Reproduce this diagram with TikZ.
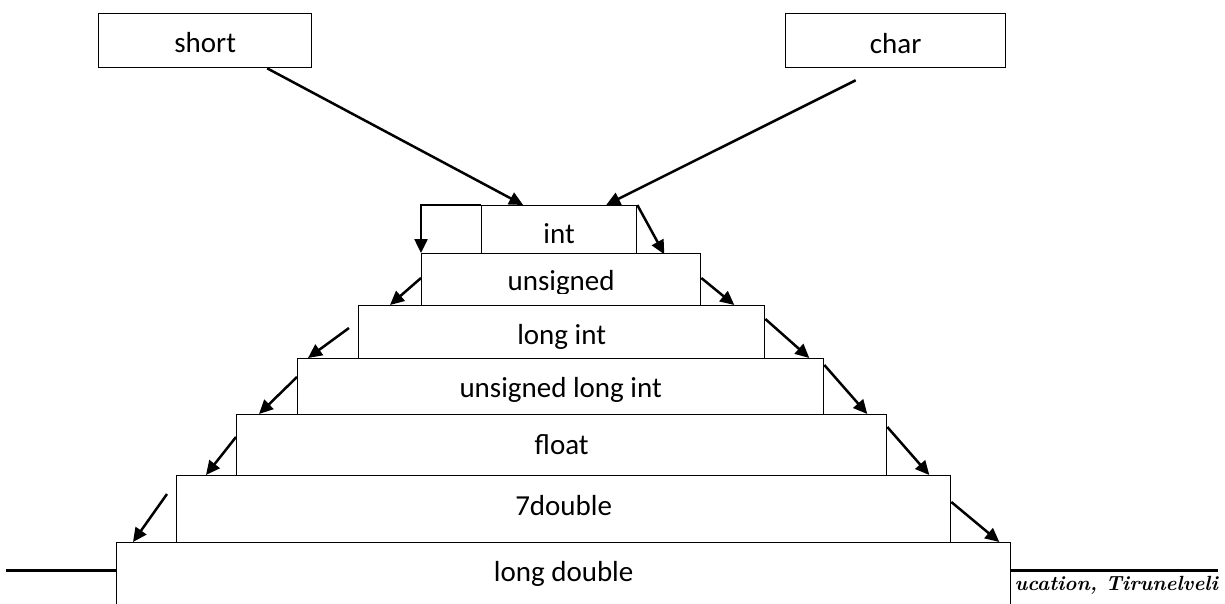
\documentclass[tikz,border=0pt]{standalone}
\usepackage{fontspec}
\newfontfamily\carlito{Carlito}
\usetikzlibrary{arrows.meta,calc}
\tikzset{
  tbox/.style={draw=black, line width=1.3pt, fill=white, rectangle, inner sep=0pt,
    anchor=north west, align=center, font=\carlito\fontsize{29}{34}\selectfont},
  arr/.style={line width=2.5pt, -{Triangle[length=14pt,width=13pt]}},
  rulel/.style={line width=3pt},
}
\begin{document}
\begin{tikzpicture}[x=1pt,y=-1pt]
\clip (0,0) rectangle (1225,604);
% footer text and rule
\node[font=\fontsize{20.5}{24}\selectfont\bfseries\itshape, anchor=base east, inner sep=0pt] (foot) at (1218,590) {ucation, Tirunelveli};
\coordinate (hl) at (6,570);
\coordinate (hr) at (1218,570);
% top boxes
\node[tbox, minimum width=213pt, text height=39pt, text depth=15pt] (short) at (98,13) {short};
\node[tbox, minimum width=220pt, text height=40pt, text depth=14pt] (char) at (785,13) {char};
% pyramid
\node[tbox, minimum width=155pt, text height=38pt, text depth=10pt] (int) at (481,205) {int};
\node[tbox, minimum width=279pt, text height=37pt, text depth=15pt] (unsigned) at (421,253) {unsigned};
\fill[white] (422.5,294) rectangle (698.5,304);
\node[tbox, minimum width=406pt, text height=39pt, text depth=14pt] (longint) at (358,305) {long int};
\node[tbox, minimum width=526pt, text height=39pt, text depth=17pt] (ulint) at (297,358) {unsigned long int};
\node[tbox, minimum width=650pt, text height=40pt, text depth=21pt] (float) at (236,414) {float};
\node[tbox, minimum width=774pt, text height=40pt, text depth=27pt] (dbl) at (176,475) {7double};
\node[tbox, minimum width=894pt, text height=39pt, text depth=59pt] (ldbl) at (116,542) {long double};
% rules
\draw[rulel] (hl) -- (hl -| ldbl.west);
\draw[rulel] (hr -| ldbl.east) -- (hr);
% arrows into int
\draw[arr] ([xshift=62pt]short.south) -- ([xshift=-36pt]int.north);
\draw[arr] ([xshift=-40pt,yshift=-12pt]char.south) -- ([xshift=47pt]int.north);
% left side
\draw[arr] (int.north west) -| (unsigned.north west);
\draw[arr] ([yshift=-25pt]unsigned.north west) -- ([xshift=32pt]longint.north west);
\draw[arr] ([xshift=-9pt,yshift=-23pt]longint.north west) -- ([xshift=11pt]ulint.north west);
\draw[arr] ([yshift=-19pt]ulint.north west) -- ([xshift=23pt]float.north west);
\draw[arr] ([yshift=-23pt]float.north west) -- ([xshift=30pt]dbl.north west);
\draw[arr] ([xshift=-9pt,yshift=-19pt]dbl.north west) -- ([xshift=17pt]ldbl.north west);
% right side
\draw[arr] (int.north east) -- ([xshift=27pt]int.south east);
\draw[arr] ([yshift=-25pt]unsigned.north east) -- ([xshift=-31pt]longint.north east);
\draw[arr] ([yshift=-14pt]longint.north east) -- ([xshift=-15pt]ulint.north east);
\draw[arr] ([yshift=-7pt]ulint.north east) -- ([xshift=-20pt]float.north east);
\draw[arr] ([yshift=-13pt]float.north east) -- ([xshift=-22pt]dbl.north east);
\draw[arr] ([yshift=-27pt]dbl.north east) -- ([xshift=-12pt]ldbl.north east);
\end{tikzpicture}
\end{document}
